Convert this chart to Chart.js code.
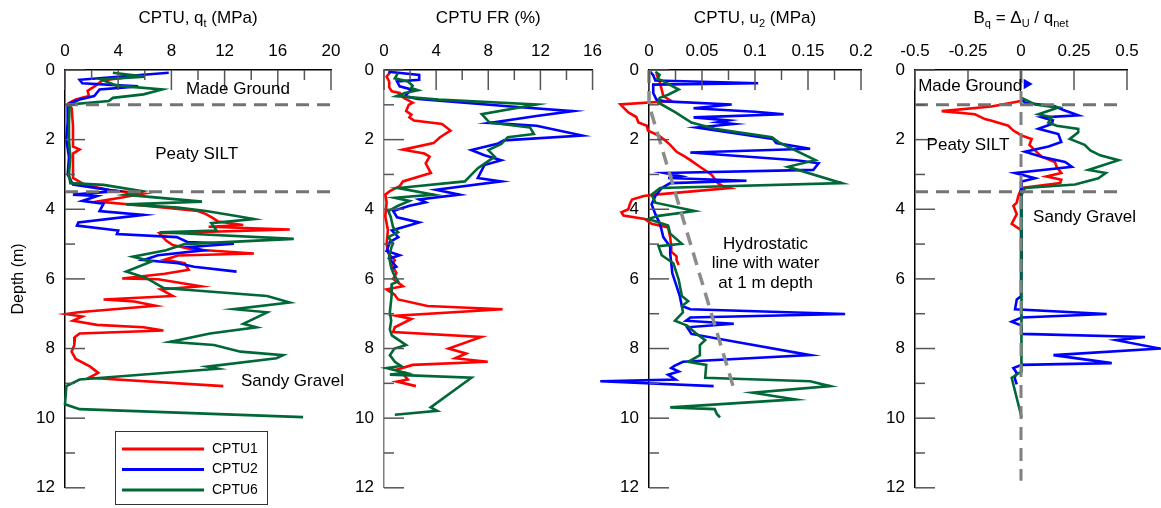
<!DOCTYPE html>
<html>
<head>
<meta charset="utf-8">
<script src="https://cdn.jsdelivr.net/npm/chart.js@4.4.0/dist/chart.umd.min.js"></script>
<style>
  body { margin: 0; background: #fff; width: 1161px; height: 508px; position: relative; overflow: hidden; }
  canvas { position: absolute; top: 0; }
</style>
</head>
<body>
<canvas id="p1" width="355" height="508" style="left:0px"></canvas>
<canvas id="p2" width="270" height="508" style="left:340px"></canvas>
<canvas id="p3" width="295" height="508" style="left:590px"></canvas>
<canvas id="p4" width="291" height="508" style="left:870px"></canvas>
<script>
// [depth (m), value] pairs
const seriesNames = ['CPTU1', 'CPTU2', 'CPTU6'];
const layerDepths = [1, 3.5];

const qt1 = [[0.14,6.0],[0.3,2.8],[0.45,2.3],[0.6,1.7],[0.75,1.8],[0.85,0.8],[0.95,0.3],[1.1,0.5],[1.6,0.6],[2.2,0.6],[2.28,1.1],[2.4,0.6],[3.1,0.6],[3.3,1.5],[3.45,3.3],[3.55,5.9],[3.65,4.5],[3.78,2.4],[3.9,6.0],[4.05,10.0],[4.14,10.6],[4.25,11.1],[4.35,11.5],[4.45,13.4],[4.5,10.8],[4.58,16.9],[4.69,7.1],[4.9,7.6],[5.03,8.1],[5.15,9.5],[5.27,14.2],[5.33,8.5],[5.45,7.5],[5.55,9.0],[5.74,9.3],[5.85,7.5],[5.99,4.3],[6.01,7.0],[6.21,10.2],[6.3,7.2],[6.49,8.1],[6.59,2.9],[6.65,5.2],[6.77,6.8],[6.96,1.0],[7.01,0.1],[7.08,1.3],[7.2,0.6],[7.32,2.4],[7.39,5.9],[7.48,7.4],[7.57,1.1],[7.67,0.75],[7.9,0.7],[8.09,0.5],[8.3,0.8],[8.52,1.9],[8.7,2.5],[8.84,1.8],[9.08,11.9]];
const qt2 = [[0.08,7.8],[0.28,1.1],[0.38,1.3],[0.47,5.5],[0.56,2.6],[0.75,2.2],[0.85,1.1],[0.99,0.2],[1.5,0.2],[2.0,0.1],[2.5,0.3],[3.0,0.2],[3.29,0.6],[3.48,3.9],[3.58,0.6],[3.62,2.4],[3.76,1.3],[3.84,2.9],[4.05,2.6],[4.16,5.9],[4.38,1.0],[4.47,0.9],[4.61,4.0],[4.71,3.9],[4.8,8.4],[4.94,9.2],[4.99,12.7],[5.08,9.4],[5.18,10.4],[5.32,7.0],[5.46,5.9],[5.55,8.5],[5.65,9.7],[5.79,12.9]];
const qt6 = [[0.08,3.6],[0.19,6.0],[0.27,2.7],[0.45,3.9],[0.56,7.3],[0.7,5.9],[0.8,3.6],[0.89,3.3],[0.99,0.35],[1.5,0.3],[2.0,0.3],[2.5,0.4],[3.0,0.3],[3.25,0.4],[3.3,2.9],[3.48,5.8],[3.58,4.5],[3.78,10.3],[3.86,4.6],[3.95,8.5],[4.05,10.6],[4.2,13.0],[4.28,14.2],[4.4,11.0],[4.61,11.4],[4.66,7.1],[4.85,17.2],[5.0,9.0],[5.18,7.6],[5.36,5.1],[5.5,6.5],[5.79,4.6],[5.97,6.1],[6.26,7.4],[6.49,15.2],[6.68,16.9],[6.87,12.7],[6.96,15.2],[7.29,13.4],[7.39,14.4],[7.57,10.9],[7.81,7.9],[7.9,11.2],[8.09,13.2],[8.19,16.4],[8.28,15.9],[8.52,10.7],[8.58,11.5],[8.89,1.1],[9.08,0.1],[9.6,0.0],[9.74,1.1],[9.97,17.9]];

const fr1 = [[0.05,0.5],[0.19,0.2],[0.33,0.4],[0.5,0.4],[0.61,0.6],[0.66,1.2],[0.8,1.5],[0.94,2.2],[1.0,1.9],[1.18,1.7],[1.28,2.1],[1.36,1.95],[1.45,2.3],[1.55,4.45],[1.74,5.1],[1.93,4.3],[2.1,3.8],[2.29,1.45],[2.4,3.1],[2.49,3.5],[2.68,3.2],[2.96,3.6],[3.2,1.45],[3.34,1.2],[3.48,0.45],[3.58,0.1],[3.81,0.2],[4.2,0.1],[4.6,0.3],[5.0,0.2],[5.27,0.33],[5.46,0.83],[5.6,0.6],[5.83,0.95],[6.0,0.7],[6.21,1.45],[6.3,0.2],[6.45,0.8],[6.59,1.08],[6.78,3.33],[6.87,9.1],[7.06,0.95],[7.15,2.1],[7.39,0.83],[7.53,0.7],[7.67,7.46],[8.0,4.96],[8.14,6.3],[8.28,5.46],[8.38,7.96],[8.47,2.2],[8.61,0.95],[8.75,1.5],[8.89,1.83],[8.95,1.0],[9.08,2.45]];
const fr2 = [[0.05,0.33],[0.14,2.7],[0.28,2.7],[0.33,1.0],[0.47,1.2],[0.56,2.1],[0.75,1.6],[0.83,2.6],[1.04,9.5],[1.18,14.5],[1.32,11.7],[1.52,8.1],[1.6,11.7],[1.88,15.2],[2.02,9.2],[2.12,8.7],[2.3,6.7],[2.45,7.7],[2.59,9.0],[2.73,7.7],[3.1,7.2],[3.2,9.0],[3.44,4.0],[3.58,5.8],[3.72,2.7],[3.8,3.2],[3.9,1.96],[4.05,0.7],[4.23,1.0],[4.38,2.7],[4.61,0.6],[4.8,1.1],[4.94,0.45],[5.1,0.3],[5.2,0.2],[5.32,1.2],[5.42,0.4],[5.65,0.95],[5.72,0.5]];
const fr6 = [[0.08,1.08],[0.24,0.83],[0.33,1.83],[0.45,2.2],[0.52,2.08],[0.58,2.6],[0.66,1.6],[0.75,0.95],[0.85,4.2],[0.99,11.7],[1.27,7.5],[1.51,8.1],[1.65,11.2],[1.84,11.5],[1.93,9.5],[2.12,9.0],[2.3,8.0],[2.49,8.5],[2.82,7.2],[3.2,6.2],[3.39,1.08],[3.58,3.83],[3.67,0.83],[3.76,1.95],[3.9,1.08],[4.05,0.33],[4.2,0.5],[4.52,0.7],[4.66,1.08],[4.8,0.33],[4.99,0.7],[5.08,0.58],[5.35,0.4],[5.6,0.5],[5.83,0.7],[6.07,1.08],[6.15,0.6],[6.49,0.58],[6.96,0.45],[7.2,0.55],[7.45,0.45],[7.62,0.6],[7.9,1.7],[8.0,0.8],[8.19,0.45],[8.38,0.83],[8.5,1.3],[8.56,0.2],[8.7,1.7],[8.75,0.45],[8.84,6.71],[9.69,3.58],[9.79,4.08],[9.9,0.83]];

const u1 = [[0.11,0.007],[0.33,0.010],[0.56,0.012],[0.75,0.0135],[0.89,0.021],[0.99,-0.027],[1.22,-0.0195],[1.35,-0.012],[1.51,-0.01],[1.6,-0.002],[1.74,-0.001],[1.88,0.009],[2.02,0.015],[2.15,0.02],[2.35,0.026],[2.49,0.034],[2.59,0.039],[2.78,0.048],[3.01,0.059],[3.25,0.065],[3.34,0.070],[3.39,0.076],[3.58,0.006],[3.62,-0.005],[3.72,-0.016],[3.85,-0.018],[4.0,-0.0195],[4.09,-0.026],[4.18,-0.024],[4.28,-0.004],[4.42,0.0025],[4.52,0.018],[4.8,0.02],[5.08,0.021],[5.22,0.021],[5.35,0.026],[5.46,0.026],[5.6,0.028]];
const u2 = [[0.05,0.001],[0.15,0.004],[0.3,0.006],[0.38,0.103],[0.42,0.004],[0.66,0.004],[0.85,0.007],[0.9,0.015],[0.99,0.078],[1.1,0.042],[1.2,0.1],[1.27,0.127],[1.36,0.042],[1.45,0.075],[1.5,0.065],[1.55,0.08],[1.65,0.045],[1.98,0.117],[2.1,0.12],[2.26,0.152],[2.37,0.039],[2.59,0.139],[2.68,0.16],[2.87,0.155],[2.96,0.015],[3.05,0.03],[3.1,0.018],[3.18,0.092],[3.25,0.02],[3.39,0.012],[3.62,0.006],[3.86,0.0025],[4.14,0.006],[4.42,0.0104],[4.8,0.0135],[5.08,0.02],[5.27,0.02],[5.55,0.021],[5.84,0.022],[6.21,0.026],[6.49,0.029],[6.78,0.031],[6.87,0.039],[7.01,0.185],[7.11,0.039],[7.2,0.035],[7.29,0.08],[7.39,0.036],[7.58,0.04],[8.19,0.152],[8.38,0.032],[8.5,0.024],[8.56,0.021],[8.66,0.028],[8.75,0.018],[8.89,0.025],[8.94,-0.046],[9.08,0.061]];
const u6 = [[0.05,0.006],[0.14,0.010],[0.25,0.008],[0.3,0.012],[0.56,0.028],[0.71,0.018],[0.8,0.01],[0.94,0.009],[1.22,0.025],[1.51,0.04],[1.69,0.062],[1.93,0.116],[2.07,0.122],[2.59,0.157],[2.78,0.131],[3.25,0.182],[3.39,0.0104],[3.58,0.0025],[3.81,0.006],[4.05,0.043],[4.19,0.009],[4.28,-0.0006],[4.47,0.018],[4.7,0.02],[4.99,0.031],[5.06,0.009],[5.32,0.012],[5.55,0.023],[6.02,0.028],[6.49,0.031],[6.64,0.037],[6.78,0.031],[6.96,0.032],[7.2,0.0245],[7.34,0.036],[7.58,0.045],[7.76,0.053],[7.9,0.048],[8.19,0.048],[8.38,0.037],[8.47,0.054],[8.84,0.053],[8.94,0.152],[9.08,0.171],[9.27,0.098],[9.46,0.138],[9.69,0.02],[9.74,0.062],[9.88,0.064],[9.98,0.067]];
const hydrostatic = [[0,0],[1,0],[9.1,0.0795]];

const bq1 = [[0.89,0.0],[1.05,-0.14],[1.18,-0.374],[1.27,-0.217],[1.41,-0.17],[1.46,-0.138],[1.6,-0.06],[1.74,-0.036],[1.88,0.003],[1.98,0.05],[2.15,0.04],[2.31,0.066],[2.49,0.097],[2.64,0.16],[2.78,0.168],[2.96,0.19],[3.06,0.12],[3.15,0.19],[3.25,0.185],[3.39,0.003],[3.62,-0.013],[3.81,-0.02],[3.9,-0.036],[4.14,-0.02],[4.42,-0.044],[4.61,0.003],[5.18,0.003],[5.6,0.003]];
const bq2 = [[0.85,0.005],[0.94,0.019],[1.04,0.16],[1.15,0.2],[1.3,0.27],[1.36,0.1],[1.45,0.15],[1.55,0.145],[1.69,0.082],[1.84,0.176],[2.07,0.19],[2.2,0.13],[2.35,0.019],[2.5,0.1],[2.64,0.208],[2.78,0.24],[2.96,-0.028],[3.11,0.066],[3.2,0.003],[3.4,0.0],[5.0,0.0],[6.5,0.0],[6.59,-0.02],[6.87,-0.028],[7.01,0.404],[7.11,0.003],[7.23,-0.044],[7.34,0.003],[7.58,0.003],[7.67,0.585],[7.76,0.45],[8.0,0.656],[8.19,0.153],[8.42,0.428],[8.47,0.003],[8.56,-0.036],[8.7,-0.02],[8.84,-0.03],[9.03,-0.02]];
const bq2Marker = [[0.4,0.027]];
const bq6 = [[0.8,0.003],[0.99,0.066],[1.08,0.176],[1.27,0.082],[1.36,0.145],[1.51,0.129],[1.6,0.168],[1.69,0.27],[1.79,0.27],[1.98,0.23],[2.15,0.3],[2.31,0.327],[2.45,0.373],[2.59,0.46],[2.87,0.318],[2.96,0.4],[3.11,0.365],[3.29,0.255],[3.39,0.019],[3.58,0.003],[5.0,0.0],[7.0,0.003],[8.66,0.003],[8.84,-0.044],[9.98,0.003]];
const bqZeroLine = [[0,0],[11.8,0]];

const FONT = "'Liberation Sans', Arial, sans-serif";
Chart.defaults.font.family = FONT;
Chart.defaults.color = '#000';

const RED = '#ff0000', BLUE = '#0000ff', GREEN = '#006837', GRAY = '#737373';

function series(pts, color, label, extra) {
  return Object.assign({
    label: label,
    data: pts.map(p => ({ x: p[1], y: p[0] })),
    borderColor: color, backgroundColor: color,
    borderWidth: 2.6, pointRadius: 0, showLine: true, clip: false
  }, extra || {});
}
function dashed(pts) {
  return series(pts, GRAY, '', { borderDash: [13, 8], borderWidth: 3, order: 0 });
}
function layerLines(xmin, xmax) {
  return layerDepths.map(d => dashed([[d, xmin], [d, xmax]]));
}

// tick marks drawn on the inside of the left and top axes
const inwardTicks = {
  id: 'inwardTicks',
  afterDatasetsDraw(chart) {
    const { ctx, chartArea: a, scales: { x, y } } = chart;
    ctx.save();
    ctx.strokeStyle = '#555';
    ctx.lineWidth = 1.5;
    x.ticks.forEach(t => {
      const px = x.getPixelForValue(t.value);
      ctx.beginPath(); ctx.moveTo(px, a.top); ctx.lineTo(px, a.top + (t.label === '' ? 10 : 20)); ctx.stroke();
    });
    y.ticks.forEach(t => {
      const py = y.getPixelForValue(t.value);
      ctx.beginPath(); ctx.moveTo(a.left, py); ctx.lineTo(a.left + (t.label === '' ? 10 : 20), py); ctx.stroke();
    });
    ctx.restore();
  }
};

// panel title with subscripts
const subTitle = {
  id: 'subTitle',
  afterDraw(chart, args, opts) {
    const { ctx, chartArea: a } = chart;
    const big = '17px ' + FONT, small = '11px ' + FONT;
    let w = 0;
    opts.parts.forEach(p => { ctx.font = p.sub ? small : big; w += ctx.measureText(p.t).width; });
    let x = (a.left + a.right) / 2 - w / 2;
    ctx.save();
    ctx.fillStyle = '#000';
    ctx.textBaseline = 'alphabetic';
    opts.parts.forEach(p => {
      ctx.font = p.sub ? small : big;
      ctx.fillText(p.t, x, 23 + (p.sub ? 4 : 0));
      x += ctx.measureText(p.t).width;
    });
    ctx.restore();
  }
};

// layer names and other notes, placed in data coordinates
const notes = {
  id: 'notes',
  afterDraw(chart, args, opts) {
    const { ctx, scales: { x, y } } = chart;
    ctx.save();
    ctx.font = '17px ' + FONT;
    ctx.fillStyle = '#000';
    ctx.textAlign = 'center';
    ctx.textBaseline = 'middle';
    (opts.items || []).forEach(n => ctx.fillText(n.t, x.getPixelForValue(n.x), y.getPixelForValue(n.d)));
    ctx.restore();
  }
};

// boxed legend in the first panel
const boxLegend = {
  id: 'boxLegend',
  afterDraw(chart, args, opts) {
    if (!opts.show) return;
    const ctx = chart.ctx;
    const items = chart.data.datasets.filter(d => seriesNames.includes(d.label));
    items.sort((a, b) => seriesNames.indexOf(a.label) - seriesNames.indexOf(b.label));
    ctx.save();
    ctx.strokeStyle = '#333';
    ctx.lineWidth = 1;
    ctx.strokeRect(115.5, 431.5, 152, 73);
    ctx.font = '14px ' + FONT;
    ctx.textBaseline = 'middle';
    items.forEach((d, i) => {
      const yy = 449 + i * 20.5;
      ctx.strokeStyle = d.borderColor;
      ctx.lineWidth = 3;
      ctx.beginPath(); ctx.moveTo(122, yy); ctx.lineTo(204, yy); ctx.stroke();
      ctx.fillStyle = '#000';
      ctx.fillText(d.label, 212, yy);
    });
    ctx.restore();
  }
};

function near(v, step) { return Math.abs(v / step - Math.round(v / step)) < 1e-6; }
function fmt(v) { return String(Math.round(v * 1000) / 1000); }

function panel(id, c) {
  return new Chart(document.getElementById(id), {
    type: 'scatter',
    data: { datasets: c.datasets },
    options: {
      responsive: false,
      animation: false,
      events: [],
      layout: { padding: { left: 0, right: c.padRight, top: 0, bottom: 13 } },
      plugins: {
        legend: { display: false },
        tooltip: { enabled: false },
        subTitle: { parts: c.title },
        notes: { items: c.notes },
        boxLegend: { show: !!c.legend }
      },
      scales: {
        x: {
          type: 'linear', position: 'top', min: c.xMin, max: c.xMax,
          afterFit: s => { s.height = 70; },
          grid: { display: false, drawTicks: false },
          border: { display: true, color: '#000', width: 1.5 },
          ticks: {
            stepSize: c.xStep, padding: 8, autoSkip: false, maxRotation: 0,
            font: { size: 17 }, color: '#000',
            callback: v => near(v, c.xLabelStep) ? fmt(v) : ''
          }
        },
        y: {
          type: 'linear', reverse: true, min: 0, max: 12,
          afterFit: s => { s.width = c.yWidth; },
          grid: { display: false, drawTicks: false },
          border: { display: true, color: c.axisColor || '#000', width: 1.5 },
          ticks: {
            stepSize: 1, padding: 10, autoSkip: false,
            font: { size: 17 }, color: '#000',
            callback: v => v % 2 === 0 ? String(v) : ''
          },
          title: {
            display: !!c.yTitle, text: c.yTitle || '',
            font: { size: 16 }, color: '#000', padding: { top: 9, bottom: 0 }
          }
        }
      }
    },
    plugins: [inwardTicks, subTitle, notes, boxLegend]
  });
}

panel('p1', {
  xMin: 0, xMax: 20, xStep: 2, xLabelStep: 4, yWidth: 65, padRight: 24, yTitle: 'Depth (m)', legend: true,
  title: [{ t: 'CPTU, q' }, { t: 't', sub: true }, { t: ' (MPa)' }],
  notes: [{ t: 'Made Ground', x: 13.0, d: 0.56 }, { t: 'Peaty SILT', x: 9.9, d: 2.43 }, { t: 'Sandy Gravel', x: 17.1, d: 8.95 }],
  datasets: [
    ...layerLines(0, 20),
    series(qt6, GREEN, 'CPTU6', { order: 1 }),
    series(qt2, BLUE, 'CPTU2', { order: 2 }),
    series(qt1, RED, 'CPTU1', { order: 3 })
  ]
});

panel('p2', {
  xMin: 0, xMax: 16, xStep: 2, xLabelStep: 4, yWidth: 44, padRight: 13, axisColor: '#7f7f7f',
  title: [{ t: 'CPTU FR (%)' }],
  notes: [],
  datasets: [
    series(fr6, GREEN, 'CPTU6', { order: 1 }),
    series(fr2, BLUE, 'CPTU2', { order: 2 }),
    series(fr1, RED, 'CPTU1', { order: 3 })
  ]
});

panel('p3', {
  xMin: 0, xMax: 0.2, xStep: 0.025, xLabelStep: 0.05, yWidth: 59, padRight: 24,
  title: [{ t: 'CPTU, u' }, { t: '2', sub: true }, { t: ' (MPa)' }],
  notes: [{ t: 'Hydrostatic', x: 0.110, d: 5.0 }, { t: 'line with water', x: 0.110, d: 5.55 }, { t: 'at 1 m depth', x: 0.110, d: 6.12 }],
  datasets: [
    Object.assign(dashed(hydrostatic), { borderColor: '#8c8c8c', borderWidth: 3.5 }),
    series(u6, GREEN, 'CPTU6', { order: 1 }),
    series(u2, BLUE, 'CPTU2', { order: 2 }),
    series(u1, RED, 'CPTU1', { order: 3 })
  ]
});

panel('p4', {
  xMin: -0.5, xMax: 0.5, xStep: 0.25, xLabelStep: 0.25, yWidth: 45, padRight: 34,
  title: [{ t: 'B' }, { t: 'q', sub: true }, { t: ' = \u0394' }, { t: 'U', sub: true }, { t: ' / q' }, { t: 'net', sub: true }],
  notes: [{ t: 'Made Ground', x: -0.24, d: 0.48 }, { t: 'Peaty SILT', x: -0.25, d: 2.15 }, { t: 'Sandy Gravel', x: 0.30, d: 4.23 }],
  datasets: [
    ...layerLines(-0.5, 0.46),
    Object.assign(dashed(bqZeroLine), { borderColor: '#808080' }),
    series(bq6, GREEN, 'CPTU6', { order: 1 }),
    series(bq2, BLUE, 'CPTU2', { order: 2 }),
    series(bq2Marker, BLUE, '', { showLine: false, pointRadius: 3.5, pointStyle: 'triangle', rotation: 90, order: 2 }),
    series(bq1, RED, 'CPTU1', { order: 3 })
  ]
});
</script>
</body>
</html>
